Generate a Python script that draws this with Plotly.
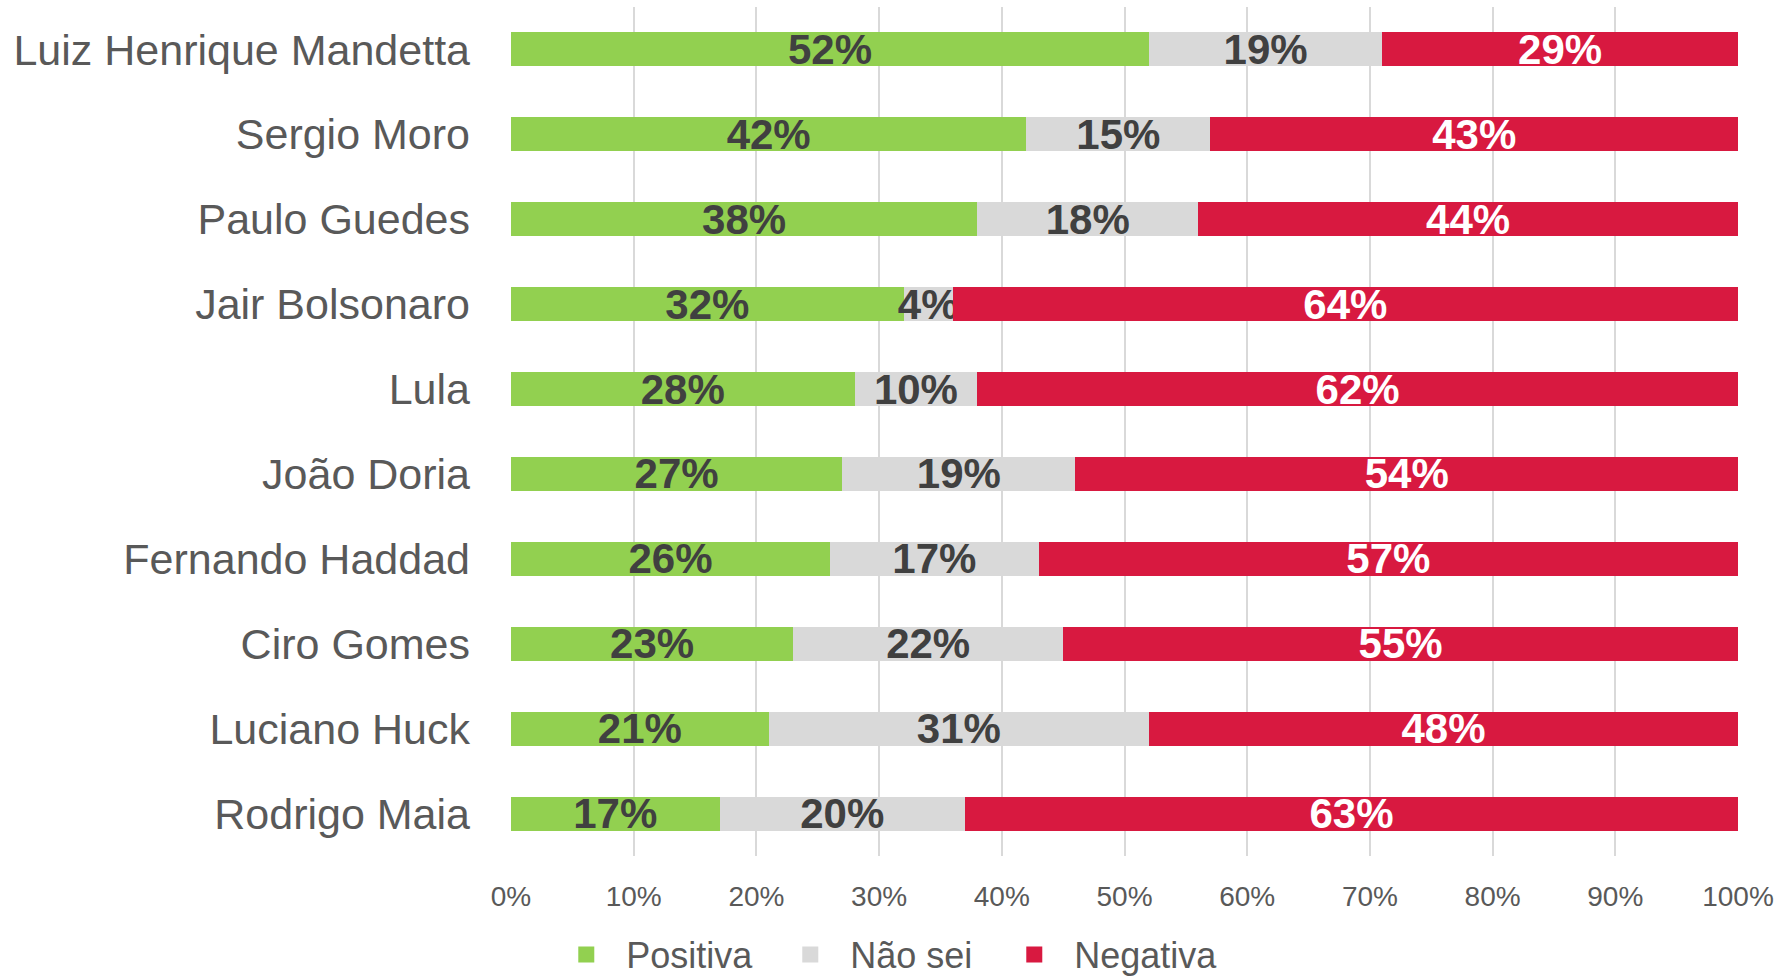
import plotly.graph_objects as go

categories = ["Luiz Henrique Mandetta", "Sergio Moro", "Paulo Guedes", "Jair Bolsonaro",
              "Lula", "João Doria", "Fernando Haddad", "Ciro Gomes", "Luciano Huck", "Rodrigo Maia"]
positiva = [52, 42, 38, 32, 28, 27, 26, 23, 21, 17]
nao_sei = [19, 15, 18, 4, 10, 19, 17, 22, 31, 20]
negativa = [29, 43, 44, 64, 62, 54, 57, 55, 48, 63]
series_names = ["Positiva", "Não sei", "Negativa"]
tick_vals = [0, 10, 20, 30, 40, 50, 60, 70, 80, 90, 100]
tick_text = [f"{v}%" for v in tick_vals]

colors = ["#92D050", "#D9D9D9", "#D81940"]
text_colors = ["#404040", "#404040", "#FFFFFF"]
FONT = "Liberation Sans"

fig = go.Figure()
for name, vals, col, tcol in zip(series_names, [positiva, nao_sei, negativa], colors, text_colors):
    fig.add_trace(go.Bar(
        y=categories, x=vals, orientation="h", name=name,
        marker=dict(color=col, line=dict(width=0)),
        text=[f"{v}%" for v in vals], textposition="inside", insidetextanchor="middle",
        constraintext="none",
        textfont=dict(family=FONT, size=42, color=tcol, weight="bold"),
        showlegend=False, hoverinfo="skip",
    ))
for name, col in zip(series_names, colors):
    fig.add_trace(go.Scatter(
        x=[None], y=[None], mode="markers", name=name,
        marker=dict(symbol="square", size=20, color=col), showlegend=True,
    ))

fig.update_layout(
    width=1786, height=979,
    barmode="stack", bargap=0.6,
    plot_bgcolor="white", paper_bgcolor="white",
    margin=dict(l=511, r=48, t=7, b=123, autoexpand=False),
    font=dict(family=FONT, color="#595959"),
    legend=dict(orientation="h", x=0.494, xref="container", xanchor="center",
                y=0.025, yref="container", yanchor="middle", traceorder="normal",
                font=dict(size=36, color="#595959"), entrywidth=139, itemwidth=70),
    xaxis=dict(range=[0, 100], tickvals=tick_vals, ticktext=tick_text, showgrid=True,
               gridcolor="#D9D9D9", gridwidth=1.5, zeroline=False, showline=False,
               tickfont=dict(size=28, color="#595959"), ticks="", ticklabelstandoff=21,
               fixedrange=True, automargin=False),
    yaxis=dict(autorange="reversed", tickfont=dict(size=43, color="#595959"), ticks="",
               ticklabelstandoff=40, showgrid=False, zeroline=False, showline=False,
               automargin=False, fixedrange=True),
)
fig.write_html("out.html", config={"displayModeBar": False},
               post_script="document.body.style.margin='0';document.body.style.overflow='hidden';")
